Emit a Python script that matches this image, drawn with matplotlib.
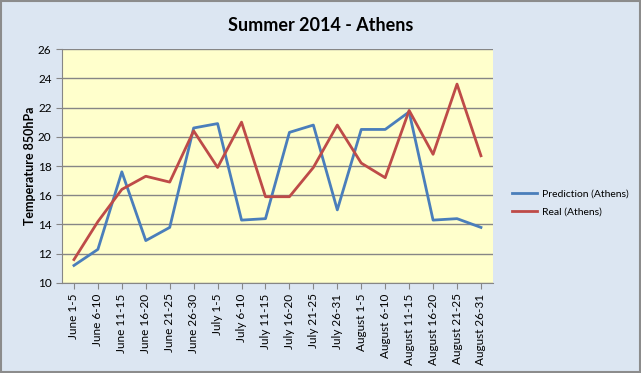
import matplotlib.pyplot as plt
from matplotlib.patches import Rectangle
import numpy as np

# periods of summer 2014
periods = ['June 1-5', 'June 6-10', 'June 11-15', 'June 16-20', 'June 21-25',
           'June 26-30', 'July 1-5', 'July 6-10', 'July 11-15', 'July 16-20',
           'July 21-25', 'July 26-31', 'August 1-5', 'August 6-10',
           'August 11-15', 'August 16-20', 'August 21-25', 'August 26-31']

prediction = [11.2, 12.3, 17.6, 12.9, 13.8, 20.6, 20.9, 14.3, 14.4, 20.3,
              20.8, 15.0, 20.5, 20.5, 21.7, 14.3, 14.4, 13.8]
real = [11.6, 14.2, 16.4, 17.3, 16.9, 20.4, 17.9, 21.0, 15.9, 15.9,
        17.9, 20.8, 18.2, 17.2, 21.8, 18.8, 23.6, 18.7]

plt.rcParams['font.family'] = ['Lato', 'DejaVu Sans']

fig = plt.figure(figsize=(6.41, 3.73), dpi=100, facecolor='#DCE6F2')
# grey frame around the chart
fig.patches.append(Rectangle((0.001, 0.002), 0.997, 0.995, transform=fig.transFigure,
                             fill=False, edgecolor='#8C8C8C', lw=1.5))

ax = fig.add_axes([0.0967, 0.2413, 0.6723, 0.6273])
ax.set_facecolor('#FFFFCC')

x = np.arange(len(periods))
ax.plot(x, prediction, color='#4A7EBB', lw=2, label='Prediction (Athens)')
ax.plot(x, real, color='#BE4B48', lw=2, label='Real (Athens)')

ax.set_xlim(-0.5, len(periods) - 0.5)
ax.set_ylim(10, 26)
ax.set_yticks(range(10, 27, 2))
ax.set_xticks(x)
ax.set_xticklabels(periods, rotation=90, fontsize=8.5)
ax.tick_params(axis='y', labelsize=8.5, length=4, color='#868686')
ax.tick_params(axis='x', length=4, color='#868686')
ax.yaxis.grid(True, color='#868686', lw=1)
ax.set_axisbelow(True)
for s in ax.spines.values():
    s.set_color('#868686')
ax.spines['right'].set_visible(False)
ax.spines['top'].set_visible(False)

ax.set_ylabel('Temperature 850hPa', fontsize=9, fontweight='bold', labelpad=1)
fig.suptitle('Summer 2014 - Athens', x=0.5, y=0.955, fontsize=13, fontweight='bold')

ax.legend(loc='center left', bbox_to_anchor=(512 / 641, 1 - 203 / 373),
          bbox_transform=fig.transFigure, frameon=False, borderpad=0,
          borderaxespad=0, fontsize=7.5, handlelength=2.4, handletextpad=0.5,
          labelspacing=0.9)

fig.savefig('out.png', dpi=100, facecolor=fig.get_facecolor())
